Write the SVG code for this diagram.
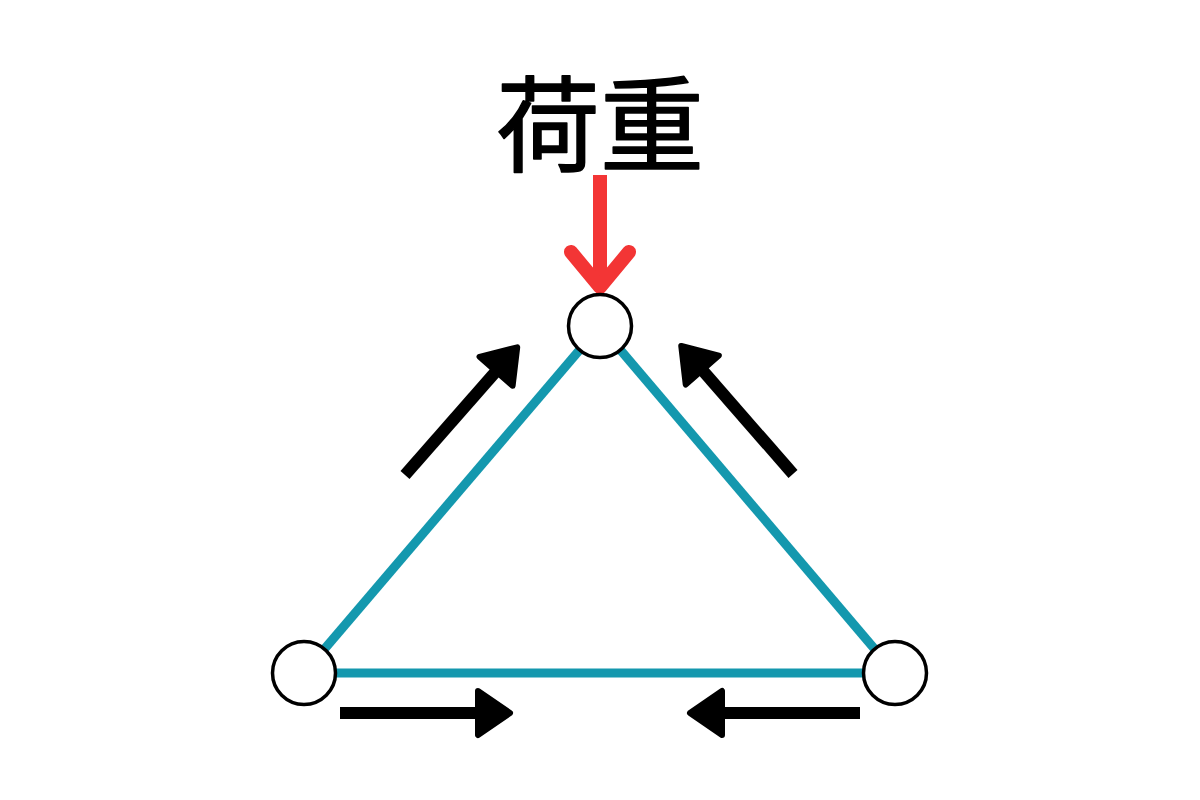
<svg xmlns="http://www.w3.org/2000/svg" width="1200" height="800" viewBox="0 0 1200 800">
<style>
.member{stroke:#1498AE;stroke-width:9;fill:none}
.joint{fill:#fff;stroke:#000;stroke-width:3.5}
.label{font-family:"Noto Sans CJK JP","Noto Sans CJK SC",sans-serif;font-size:104px;font-weight:400;fill:#000}
.load{stroke:#F33535;stroke-width:14;fill:none}
</style>
<defs>
<g id="force">
<line x1="0" y1="0" x2="140" y2="0" stroke="#000" stroke-width="12"/>
<polygon points="138,-22 170,0 138,22" fill="#000" stroke="#000" stroke-width="6" stroke-linejoin="round"/>
</g>
</defs>
<rect width="1200" height="800" fill="#fff"/>
<g id="connectors">
<line class="member" x1="600" y1="326" x2="304" y2="673"/>
<line class="member" x1="600" y1="326" x2="895" y2="673"/>
<line class="member" x1="304" y1="673" x2="895" y2="673"/>
</g>
<g id="forces">
<use href="#force" transform="translate(340,713)"/>
<use href="#force" transform="translate(860,713) rotate(180)"/>
<use href="#force" transform="translate(405,475) rotate(-48.7)"/>
<use href="#force" transform="translate(793,474) rotate(228.9)"/>
</g>
<g id="load">
<text class="label" x="600" y="164" text-anchor="middle" stroke="#000" stroke-width="1.5" stroke-linejoin="round">荷重</text>
<line class="load" x1="600" y1="175" x2="600" y2="287"/>
<polyline class="load" points="571,252 600,287 629,252" stroke-linecap="round" stroke-linejoin="round"/>
</g>
<g id="node-top"><circle class="joint" cx="600" cy="326" r="31.5"/></g>
<g id="node-left"><circle class="joint" cx="304" cy="673" r="31.5"/></g>
<g id="node-right"><circle class="joint" cx="895" cy="673" r="31.5"/></g>
</svg>
